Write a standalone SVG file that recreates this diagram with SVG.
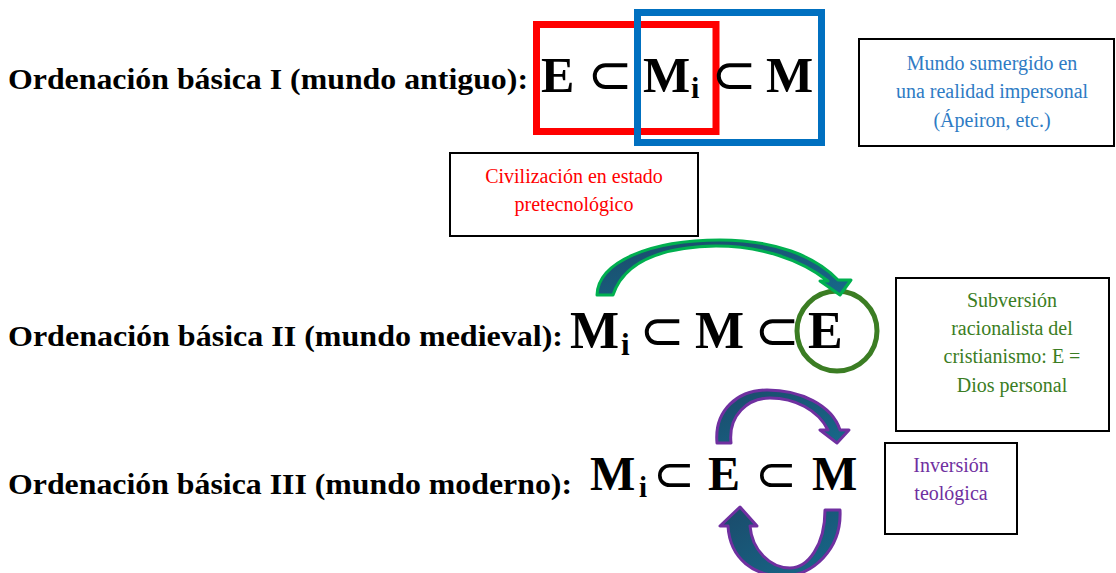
<svg xmlns="http://www.w3.org/2000/svg" width="1116" height="573" viewBox="0 0 1116 573">
<style>
.lbl{font-weight:bold;font-size:30px;fill:#000}
.f{font-weight:bold;fill:#000}
.sub{fill:#000;text-anchor:middle}
.box{fill:#fff;stroke:#000;stroke-width:2}
.note{font-size:20px;text-anchor:middle}
</style>
<defs>
<linearGradient id="teal" x1="0" y1="0" x2="1" y2="1">
<stop offset="0" stop-color="#1B4A6A"/>
<stop offset="1" stop-color="#16698A"/>
</linearGradient>
</defs>
<rect width="1116" height="573" fill="#fff"/>

<g id="row1" font-family="'Liberation Serif', 'Times New Roman', serif">
<text class="lbl" x="8" y="89" textLength="520" lengthAdjust="spacingAndGlyphs">Ordenación básica I (mundo antiguo):</text>
<rect x="536.5" y="24.5" width="179.5" height="107" fill="none" stroke="#FF0000" stroke-width="7"/>
<rect x="637.5" y="12.5" width="184" height="130" fill="none" stroke="#0070C0" stroke-width="7"/>
<text class="f" x="541" y="92" font-size="50">E</text>
<text class="sub" font-family="'DejaVu Sans', sans-serif" x="610" y="93" font-size="54">⊂</text>
<text class="f" x="643" y="92" font-size="50">M</text>
<text class="f" x="691" y="98" font-size="30" font-weight="normal">i</text>
<text class="sub" font-family="'DejaVu Sans', sans-serif" x="734" y="93" font-size="54">⊂</text>
<text class="f" x="766" y="92" font-size="50">M</text>
</g>

<g id="note-mundo" font-family="'Liberation Serif', 'Times New Roman', serif">
<rect class="box" x="859" y="39" width="255" height="107"/>
<text class="note" fill="#2E7BC4" x="992" y="70">Mundo sumergido en</text>
<text class="note" fill="#2E7BC4" x="992" y="98">una realidad impersonal</text>
<text class="note" fill="#2E7BC4" x="992" y="127">(Ápeiron, etc.)</text>
</g>

<g id="note-civilizacion" font-family="'Liberation Serif', 'Times New Roman', serif">
<rect class="box" x="450" y="153" width="248" height="83"/>
<text class="note" fill="#FF0000" x="574" y="183">Civilización en estado</text>
<text class="note" fill="#FF0000" x="574" y="211">pretecnológico</text>
</g>

<g id="row2" font-family="'Liberation Serif', 'Times New Roman', serif">
<text class="lbl" x="8" y="346" textLength="555" lengthAdjust="spacingAndGlyphs">Ordenación básica II (mundo medieval):</text>
<text class="f" x="570" y="348" font-size="52">M</text>
<text class="f" x="621" y="355" font-size="31" font-weight="normal">i</text>
<text class="sub" font-family="'DejaVu Sans', sans-serif" x="662" y="349" font-size="54">⊂</text>
<text class="f" x="695" y="348" font-size="52">M</text>
<text class="sub" font-family="'DejaVu Sans', sans-serif" x="777" y="349" font-size="54">⊂</text>
<text class="f" x="808" y="348" font-size="52">E</text>
<circle cx="837" cy="331" r="40" fill="none" stroke="#3B7D23" stroke-width="5"/>
</g>

<g id="note-subversion" font-family="'Liberation Serif', 'Times New Roman', serif">
<rect class="box" x="896" y="278" width="213" height="153"/>
<text class="note" fill="#3B7D23" x="1012" y="307">Subversión</text>
<text class="note" fill="#3B7D23" x="1012" y="335">racionalista del</text>
<text class="note" fill="#3B7D23" x="1012" y="363">cristianismo: E =</text>
<text class="note" fill="#3B7D23" x="1012" y="392">Dios personal</text>
</g>

<g id="row3" font-family="'Liberation Serif', 'Times New Roman', serif">
<text class="lbl" x="8" y="494" textLength="564" lengthAdjust="spacingAndGlyphs">Ordenación básica III (mundo moderno):</text>
<text class="f" x="590" y="490" font-size="48">M</text>
<text class="f" x="639" y="497" font-size="29" font-weight="normal">i</text>
<text class="sub" font-family="'DejaVu Sans', sans-serif" x="674" y="491" font-size="50">⊂</text>
<text class="f" x="708" y="490" font-size="48">E</text>
<text class="sub" font-family="'DejaVu Sans', sans-serif" x="776" y="491" font-size="50">⊂</text>
<text class="f" x="812" y="490" font-size="48">M</text>
</g>

<g id="note-inversion" font-family="'Liberation Serif', 'Times New Roman', serif">
<rect class="box" x="885" y="443" width="132" height="91"/>
<text class="note" fill="#7030A0" x="951" y="472">Inversión</text>
<text class="note" fill="#7030A0" x="951" y="500">teológica</text>
</g>

<g id="connectors" fill="url(#teal)" stroke-linejoin="round">
<path stroke="#00B050" stroke-width="3" d="M597,295 C598,262 650,240 720,240 C775,240 815,256 838,280 L851,280 L840,295 L820,281 L828,281 C800,259 760,246 716,246 C662,247 624,262 613,295 Z"/>
<path stroke="#7030A0" stroke-width="3" d="M717,443 C714,410 738,390 767,390 C800,390 832,405 840,430 L849,430 L837,443 L820,430 L828,430 C818,410 795,398 770,398 C748,398 728,415 731,443 Z"/>
<path stroke="#7030A0" stroke-width="3" d="M728,526 C730,560 755,576 783,576 C812,576 842,550 840,510 L825,510 C825,545 808,568 790,568 C770,568 752,550 750,526 L757,526 L740,507 L720,526 Z"/>
</g>
</svg>
